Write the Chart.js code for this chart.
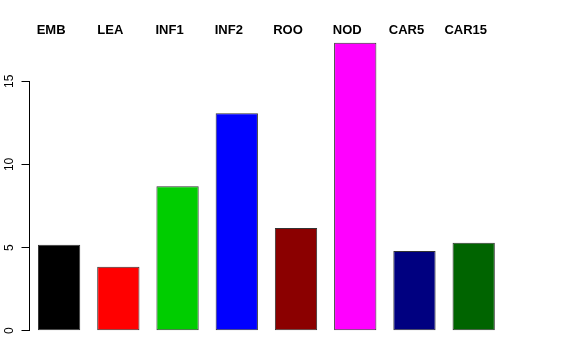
<!DOCTYPE html>
<html>
<head>
<meta charset="utf-8">
<script src="https://cdn.jsdelivr.net/npm/chart.js@4"></script>
<style>
  html, body { margin: 0; padding: 0; background: #fff; }
  #wrap { width: 576px; height: 360px; }
</style>
</head>
<body>
<div id="wrap"><canvas id="barChart"></canvas></div>
<script>
// Data
const tissues = ['EMB', 'LEA', 'INF1', 'INF2', 'ROO', 'NOD', 'CAR5', 'CAR15'];
const values = [5.17, 3.84, 8.68, 13.07, 6.18, 17.32, 4.80, 5.29];
const barColors = ['#000000', '#FF0000', '#00CD00', '#0000FF', '#8B0000', '#FF00FF', '#000080', '#006400'];
const yTicks = [0, 5, 10, 15];

// R-style axis + labels drawn on top of the chart
const rStyle = {
  id: 'rStyle',
  afterDraw(chart) {
    const ctx = chart.ctx;
    const x = chart.scales.x;
    const y = chart.scales.y;
    const axisX = chart.chartArea.left;

    ctx.save();
    // y axis line from first to last tick
    ctx.strokeStyle = '#000';
    ctx.lineWidth = 1;
    ctx.beginPath();
    ctx.moveTo(axisX, y.getPixelForValue(yTicks[0]));
    ctx.lineTo(axisX, y.getPixelForValue(yTicks[yTicks.length - 1]));
    ctx.stroke();

    // rotated tick labels
    ctx.fillStyle = '#000';
    ctx.font = '12px "Liberation Sans", Arial, sans-serif';
    ctx.textAlign = 'center';
    ctx.textBaseline = 'middle';
    yTicks.forEach(v => {
      ctx.save();
      ctx.translate(10, y.getPixelForValue(v));
      ctx.rotate(-Math.PI / 2);
      ctx.fillText(String(v), 0, 0);
      ctx.restore();
    });

    // category names across the top
    ctx.font = 'bold 13px "Liberation Sans", Arial, sans-serif';
    tissues.forEach((t, i) => {
      ctx.fillText(t, x.getPixelForValue(i) - 8, 30.5);
    });
    ctx.restore();
  }
};

new Chart(document.getElementById('barChart'), {
  type: 'bar',
  data: {
    labels: tissues,
    datasets: [{
      data: values,
      backgroundColor: barColors,
      borderColor: '#333333',
      borderWidth: 1,
      borderSkipped: false,
      barPercentage: 0.714,
      categoryPercentage: 1.0
    }]
  },
  options: {
    responsive: true,
    maintainAspectRatio: false,
    animation: false,
    layout: { padding: { top: 31.4, right: 72.7, bottom: 29.3, left: 0 } },
    plugins: {
      legend: { display: false },
      tooltip: { enabled: false }
    },
    scales: {
      x: {
        display: false,
        offset: true
      },
      y: {
        min: 0,
        max: 18,
        afterFit(scale) { scale.width = 29.5; },
        border: { display: false },
        grid: {
          drawOnChartArea: false,
          drawTicks: true,
          tickLength: 8,
          color: '#000'
        },
        ticks: {
          display: false,
          stepSize: 5,
          includeBounds: false
        }
      }
    }
  },
  plugins: [rStyle]
});
</script>
</body>
</html>
